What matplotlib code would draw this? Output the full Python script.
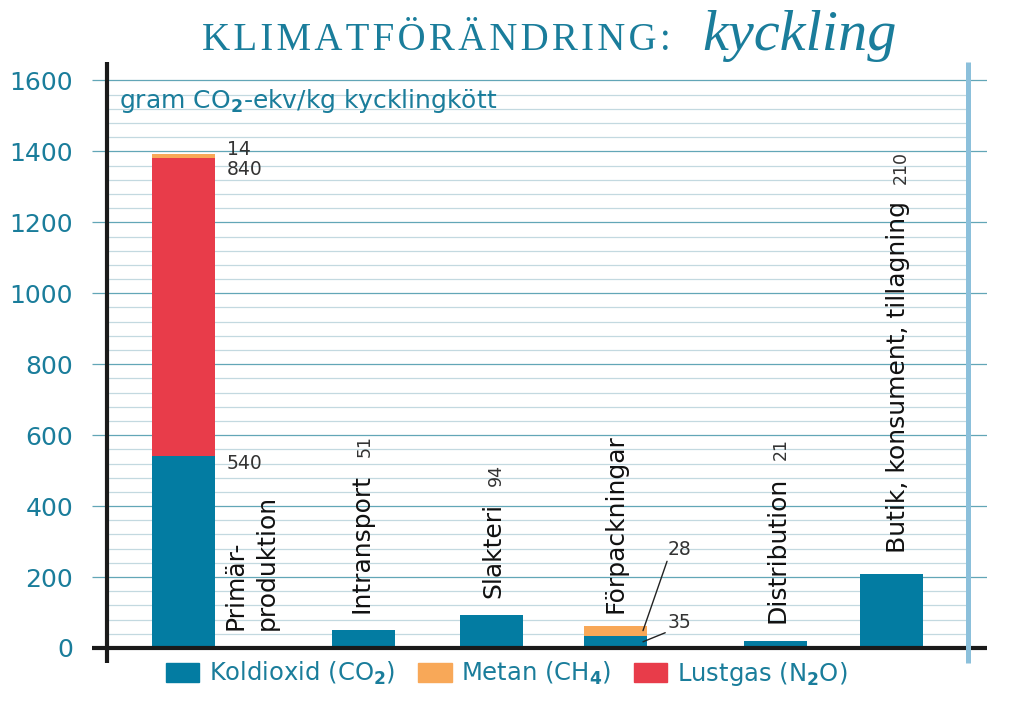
import matplotlib.pyplot as plt
from matplotlib.patches import Patch

# data
steg = ["Primär-\nproduktion", "Intransport", "Slakteri", "Förpackningar",
        "Distribution", "Butik, konsument, tillagning"]
koldioxid = [540, 51, 94, 35, 21, 210]
lustgas = [840, 0, 0, 0, 0, 0]
metan = [14, 0, 0, 28, 0, 0]
yticks = [0, 200, 400, 600, 800, 1000, 1200, 1400, 1600]

# layout (x in pixel-like units of the axes)
xpos = [183.5, 363.5, 491.5, 615.5, 775.5, 891.5]
bar_w = 63
label_dx = [59.5, 5.5, 8.5, 7.5, 9.5, 13.5]
label_y0 = [50, 100, 140, 100, 70, 268]

teal = '#1a7d9b'
c_co2 = '#037ca2'
c_ch4 = '#f8a858'
c_n2o = '#e83c4a'
minor_c = '#c3d9e0'
major_c = '#62a6b7'

fig = plt.figure(figsize=(10.12, 7.01), dpi=100)
ax = fig.add_axes([92 / 1012, 38 / 701, 895 / 1012, 601 / 701])
ax.set_xlim(92, 987)
ax.set_ylim(-42.3, 1652)
for s in ax.spines.values():
    s.set_visible(False)
ax.set_xticks([])
ax.set_yticks(yticks)
ax.set_yticklabels([str(v) for v in yticks])
ax.tick_params(axis='y', length=0, pad=13.5, labelsize=18, labelcolor=teal)

# grid
minor = [v for v in range(40, 1600, 40) if v % 200]
ax.hlines(minor, 107, 968, color=minor_c, lw=0.9, zorder=1)
ax.hlines(yticks[1:], 92, 987, color=major_c, lw=0.9, zorder=1)

# bars
bot2 = [a + b for a, b in zip(koldioxid, lustgas)]
ax.bar(xpos, koldioxid, bar_w, color=c_co2, zorder=3)
ax.bar(xpos, lustgas, bar_w, bottom=koldioxid, color=c_n2o, zorder=3)
ax.bar(xpos, metan, bar_w, bottom=bot2, color=c_ch4, zorder=3)

# axes lines
ax.vlines(107, -42.3, 1652, color='#1a1a1a', lw=3, zorder=5, clip_on=False)
ax.hlines(0, 92, 987, color='#1a1a1a', lw=3, zorder=5, clip_on=False)
ax.vlines(968, -42.3, 1652, color='#8cc0db', lw=3.6, zorder=5, clip_on=False)

ax.text(119, 1522, "gram CO$_\\mathbf{2}$-ekv/kg kycklingkött", fontsize=18,
        color=teal, va='baseline', ha='left', zorder=4)

# rotated category labels and values
for i, name in enumerate(steg):
    lines = name.split("\n")
    for j, line in enumerate(lines):
        t = ax.text(xpos[i] + label_dx[i] + j * 31, label_y0[i], line,
                    rotation=90, rotation_mode='anchor', ha='left',
                    va='baseline', fontsize=18, color='#111111', zorder=4)
    if lustgas[i] == 0 and metan[i] == 0:
        ax.annotate(str(koldioxid[i]), xy=(xpos[i] + label_dx[i] + 1, 1),
                    xycoords=('data', t), xytext=(0, 17),
                    textcoords='offset pixels', rotation=90,
                    rotation_mode='anchor', ha='left', va='baseline',
                    fontsize=12.5, color='#333333', zorder=4)

# segment values for primary production
right0 = xpos[0] + bar_w / 2
ax.text(right0 + 12, 1404, str(metan[0]), fontsize=13.5, color='#333333', va='center')
ax.text(right0 + 12, 1348, str(lustgas[0]), fontsize=13.5, color='#333333', va='center')
ax.text(right0 + 12, 519, str(koldioxid[0]), fontsize=13.5, color='#333333', va='center')

# segment values for packaging, with leader lines
right3 = xpos[3] + bar_w / 2
lp = dict(arrowstyle='-', relpos=(0, 0), shrinkA=0, shrinkB=0, lw=1, color='#222222')
ax.annotate(str(metan[3]), xy=(right3 - 4, koldioxid[3] + metan[3] / 2),
            xytext=(668, 279), fontsize=13.5, color='#333333', va='center',
            arrowprops=lp, zorder=4)
ax.annotate(str(koldioxid[3]), xy=(right3 - 4, koldioxid[3] / 2),
            xytext=(668, 73), fontsize=13.5, color='#333333', va='center',
            arrowprops=lp, zorder=4)

# title: letter-spaced caps, then italic word
caps = "\u200a".join("KLIMATFÖRÄNDRING:")
fig.text(202 / 1012, 1 - 50 / 701, caps, fontfamily=['Liberation Serif', 'DejaVu Serif'],
         fontsize=28, color=teal, va='baseline', ha='left')
fig.text(702 / 1012, 1 - 50 / 701, "kyckling", fontfamily='Liberation Serif',
         fontstyle='italic', fontsize=42, color=teal, va='baseline', ha='left')

# legend
handles = [Patch(color=c_co2, label="Koldioxid (CO$_\\mathbf{2}$)"),
           Patch(color=c_ch4, label="Metan (CH$_\\mathbf{4}$)"),
           Patch(color=c_n2o, label="Lustgas (N$_\\mathbf{2}$O)")]
fig.legend(handles=handles, loc='center', bbox_to_anchor=(507 / 1012, 1 - 674 / 701),
           ncol=3, frameon=False, fontsize=17.5, handlelength=1.36, handleheight=0.82,
           handletextpad=0.4, columnspacing=0.95, labelcolor=teal, borderpad=0,
           borderaxespad=0)

fig.savefig('out.png', dpi=100)
